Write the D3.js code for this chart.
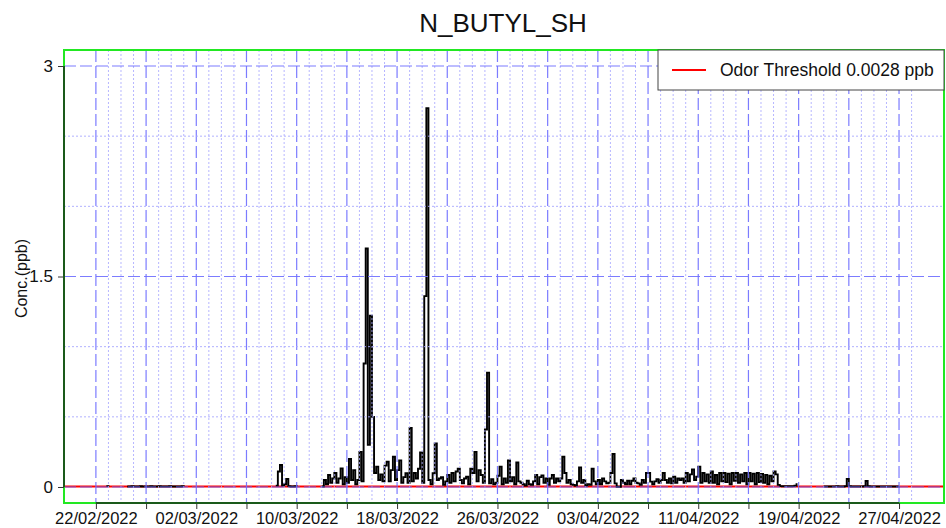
<!DOCTYPE html>
<html>
<head>
<meta charset="utf-8">
<script src="https://cdn.jsdelivr.net/npm/d3@7"></script>
<style>
  html, body { margin: 0; padding: 0; background: #fff; }
  svg { display: block; font-family: "Liberation Sans", Arial, sans-serif; }
</style>
</head>
<body>
<div id="chart"></div>
<script>
// chart text
const chartTitle = 'N_BUTYL_SH';
const yLabel = 'Conc.(ppb)';
const legendLabel = 'Odor Threshold 0.0028 ppb';
const threshold = 0.0028;

// axis ticks
const yTicks = [0, 1.5, 3];
const yMinorTicks = [0.5, 1, 2, 2.5];
const xTickLabels = ['22/02/2022', '02/03/2022', '10/03/2022', '18/03/2022', '26/03/2022',
  '03/04/2022', '11/04/2022', '19/04/2022', '27/04/2022'];

// measurements, one value every 4 hours, each segment starts at its own time
const stepHours = 4;
const segStarts = ['2022-02-22T20:00Z', '2022-02-24T12:00Z', '2022-03-08T08:00Z', '2022-03-12T00:00Z', '2022-04-21T00:00Z'];
const segA = [0.006, 0.004];
const segB = [0.004, 0.003, 0.005, 0.004, 0.003, 0.004, 0.005, 0.003, 0.004, 0.004, 0.003, 0.005, 0.004, 0.003,
  0.004, 0.005, 0.004, 0.003, 0.004, 0.004, 0.005, 0.003, 0.004, 0.004, 0.003, 0.004, 0.005, 0.004];
const segC = [0.01, 0.11, 0.157, 0.01, 0.02, 0.057, 0.006, 0.004, 0.004, 0.005, 0.004];
const segD = [
  0.003, 0.05, 0.02, 0.085, 0.03, 0.06,   // 12/03
  0.1, 0.03, 0.06, 0.133, 0.02, 0.07,
  0.03, 0.2, 0.05, 0.12, 0.02, 0.05,
  0.25, 0.04, 0.88, 1.70, 0.3, 1.22,      // 15/03
  0.5, 0.1, 0.145, 0.05, 0.09, 0.04,
  0.152, 0.18, 0.04, 0.12, 0.216, 0.05,
  0.12, 0.19, 0.03, 0.07, 0.098, 0.03,    // 18/03
  0.42, 0.04, 0.1, 0.06, 0.13, 0.247,
  0.03, 1.36, 2.70, 0.05, 0.02, 0.098,    // 20/03
  0.31, 0.05, 0.06, 0.07, 0.015, 0.04,
  0.085, 0.03, 0.1, 0.04, 0.11, 0.13,
  0.05, 0.026, 0.06, 0.073, 0.02, 0.13,
  0.1, 0.25, 0.04, 0.12, 0.085, 0.03,     // 24/03
  0.41, 0.815, 0.026, 0.055, 0.02, 0.03,
  0.08, 0.145, 0.02, 0.06, 0.03, 0.19,
  0.04, 0.07, 0.02, 0.175, 0.04, 0.03,
  0.02, 0.01, 0.045, 0.02, 0.015, 0.04,   // 28/03
  0.085, 0.02, 0.07, 0.083, 0.03, 0.06,
  0.015, 0.06, 0.085, 0.03, 0.06, 0.04,
  0.06, 0.215, 0.1, 0.03, 0.05, 0.02,
  0.015, 0.01, 0.04, 0.14, 0.03, 0.05,    // 01/04
  0.01, 0.02, 0.015, 0.13, 0.04, 0.02,
  0.05, 0.02, 0.06, 0.04, 0.026, 0.03,
  0.1, 0.235, 0.026, 0.002, 0.002, 0.05,
  0.03, 0.02, 0.045, 0.02, 0.045, 0.06,   // 05/04
  0.03, 0.026, 0.015, 0.05, 0.03, 0.1,
  0.1, 0.038, 0.02, 0.04, 0.055, 0.03,
  0.05, 0.1, 0.05, 0.03, 0.06, 0.026,
  0.074, 0.03, 0.06, 0.05, 0.06, 0.03,    // 09/04
  0.1, 0.04, 0.09, 0.125, 0.05, 0.074,
  0.145, 0.03, 0.1, 0.04, 0.09, 0.03,
  0.11, 0.03, 0.085, 0.02, 0.1, 0.04,
  0.1, 0.035, 0.095, 0.02, 0.1, 0.045,    // 13/04
  0.1, 0.03, 0.09, 0.04, 0.1, 0.02,
  0.1, 0.04, 0.095, 0.02, 0.1, 0.035,
  0.093, 0.03, 0.086, 0.02, 0.08, 0.04,
  0.11, 0.09, 0.015, 0.006, 0.005, 0.006, // 17/04
  0.005, 0.006, 0.005, 0.006, 0.01, 0.026
];
const segE = [0.004, 0.003, 0.004, 0.004, 0.003, 0.004, 0.005, 0.004, 0.003, 0.004, 0.006, 0.057, 0.006,
  0.004, 0.003, 0.004, 0.004, 0.003, 0.004, 0.005, 0.043, 0.005, 0.004, 0.003, 0.004, 0.004, 0.003,
  0.004, 0.004, 0.003, 0.004, 0.004, 0.003, 0.004, 0.004, 0.003, 0.004];
const segValues = [segA, segB, segC, segD, segE];

const width = 946, height = 528;
const plot = { left: 64, right: 944, top: 50, bottom: 503 };

const svg = d3.select('#chart')
  .append('svg')
  .attr('width', width)
  .attr('height', height);

const parseTick = d3.utcParse('%d/%m/%Y');
const tickDates = xTickLabels.map(parseTick);

const x = d3.scaleUtc()
  .domain([new Date('2022-02-19T11:00Z'), new Date('2022-04-30T14:00Z')])
  .range([plot.left, plot.right]);

const y = d3.scaleLinear()
  .domain([-0.1212, 3.1212])
  .range([plot.bottom + 1, plot.top - 1]);

const series = segStarts.map((s, i) => {
  const t0 = new Date(s);
  return segValues[i].map((v, j) => ({ date: d3.utcHour.offset(t0, j * stepHours), value: v }));
});

// threshold line
svg.append('line')
  .attr('x1', plot.left).attr('x2', plot.right)
  .attr('y1', y(threshold)).attr('y2', y(threshold))
  .attr('stroke', '#ff0000')
  .attr('stroke-width', 2);

// data, blocky like the logger output
const line = d3.line()
  .x(d => x(d.date))
  .y(d => y(d.value))
  .curve(d3.curveStepAfter);
svg.append('g').selectAll('path')
  .data(series)
  .enter()
  .append('path')
  .attr('d', line)
  .attr('fill', 'none')
  .attr('stroke', '#000')
  .attr('stroke-width', 1.9)
  .attr('stroke-linejoin', 'miter');

// grid, drawn over the data like the original
const grid = svg.append('g');
const days = d3.utcDay.range(tickDates[0], d3.utcDay.offset(tickDates[tickDates.length - 1], 2));
grid.selectAll('.vgrid')
  .data(days)
  .enter()
  .append('line')
  .attr('x1', d => x(d)).attr('x2', d => x(d))
  .attr('y1', plot.top).attr('y2', plot.bottom)
  .attr('stroke', (d, i) => i % 4 === 0 ? '#6e6eff' : '#a9a9ff')
  .attr('stroke-opacity', (d, i) => i % 4 === 0 ? 0.9 : 0.85)
  .attr('stroke-width', (d, i) => i % 4 === 0 ? 1.2 : 1)
  .attr('stroke-dasharray', (d, i) => i % 4 === 0 ? '12,4' : '2,2');

grid.selectAll('.hgrid')
  .data(yTicks.concat(yMinorTicks))
  .enter()
  .append('line')
  .attr('x1', plot.left).attr('x2', plot.right)
  .attr('y1', d => y(d)).attr('y2', d => y(d))
  .attr('stroke', d => yTicks.includes(d) ? '#6e6eff' : '#a9a9ff')
  .attr('stroke-opacity', 0.9)
  .attr('stroke-width', d => yTicks.includes(d) ? 1.2 : 1)
  .attr('stroke-dasharray', d => yTicks.includes(d) ? '12,4' : '2,2');

// frame
svg.append('rect')
  .attr('x', plot.left).attr('y', plot.top)
  .attr('width', plot.right - plot.left)
  .attr('height', plot.bottom - plot.top)
  .attr('fill', 'none')
  .attr('stroke', '#22e822')
  .attr('stroke-width', 2);

// axes
const xTicks = d3.utcDay.range(tickDates[0], d3.utcDay.offset(tickDates[tickDates.length - 1], 1), 4);
const xAxis = svg.append('g')
  .attr('transform', `translate(0, ${plot.bottom})`)
  .call(d3.axisBottom(x)
    .tickValues(xTicks)
    .tickSize(6)
    .tickPadding(3)
    .tickFormat(d => {
      const k = tickDates.findIndex(t => +t === +d);
      return k >= 0 ? xTickLabels[k] : '';
    }))
  .attr('font-family', '"Liberation Sans", Arial, sans-serif')
  .attr('font-size', '16.5px');
xAxis.select('.domain').remove();
xAxis.selectAll('.tick line').attr('stroke', '#333');
xAxis.selectAll('text').attr('fill', '#111');
xAxis.append('line')
  .attr('x1', x(tickDates[0])).attr('x2', x(tickDates[tickDates.length - 1]))
  .attr('stroke', '#1a5a1a').attr('stroke-width', 2);

const yAxis = svg.append('g')
  .attr('transform', `translate(${plot.left}, 0)`)
  .call(d3.axisLeft(y)
    .tickValues(yTicks)
    .tickSize(6)
    .tickPadding(5)
    .tickFormat(d => d))
  .attr('font-family', '"Liberation Sans", Arial, sans-serif')
  .attr('font-size', '17px');
yAxis.select('.domain').remove();
yAxis.selectAll('.tick line').attr('stroke', '#333');
yAxis.selectAll('text').attr('fill', '#111');
yAxis.append('line')
  .attr('y1', y(0)).attr('y2', y(3))
  .attr('stroke', '#1a5a1a').attr('stroke-width', 2);

// title and y label
svg.append('text')
  .attr('x', 503)
  .attr('y', 32)
  .attr('text-anchor', 'middle')
  .attr('font-size', '26px')
  .attr('fill', '#111')
  .text(chartTitle);

svg.append('text')
  .attr('transform', `translate(27, ${(plot.top + plot.bottom) / 2 + 2}) rotate(-90)`)
  .attr('text-anchor', 'middle')
  .attr('font-size', '16px')
  .attr('fill', '#111')
  .text(yLabel);

// legend
const legend = svg.append('g').attr('transform', 'translate(658, 50)');
legend.append('rect')
  .attr('width', 286).attr('height', 40)
  .attr('fill', '#fff')
  .attr('stroke', '#444')
  .attr('stroke-width', 1);
legend.append('line')
  .attr('x1', 14).attr('x2', 48)
  .attr('y1', 20).attr('y2', 20)
  .attr('stroke', '#ff0000')
  .attr('stroke-width', 2);
legend.append('text')
  .attr('x', 62)
  .attr('y', 26)
  .attr('font-size', '17.5px')
  .attr('fill', '#111')
  .text(legendLabel);
</script>
</body>
</html>
